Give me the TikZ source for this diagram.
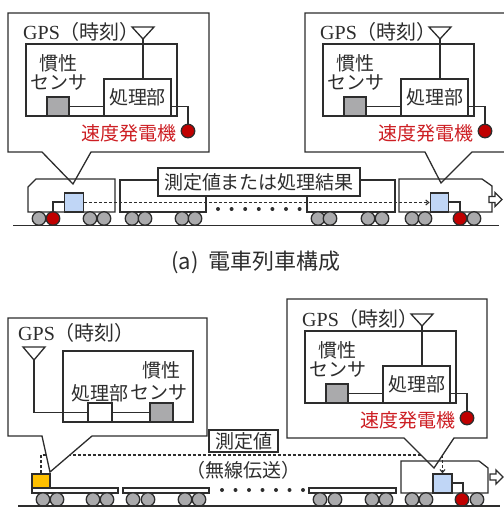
\documentclass[tikz,border=0pt]{standalone}
\usepackage{fontspec}
\setmainfont{Liberation Serif}
\newfontfamily\jp{Noto Sans CJK JP}
\usepackage{tikz}
\usetikzlibrary{arrows.meta, calc}
\definecolor{linegray}{RGB}{45,45,45}
\definecolor{sensgray}{RGB}{170,170,172}
\definecolor{genred}{RGB}{192,0,0}
\definecolor{txtred}{RGB}{205,30,35}
\definecolor{devblue}{RGB}{192,214,246}
\definecolor{devorange}{RGB}{255,192,0}
\tikzset{
    wire/.style={draw=linegray, line width=1.3pt},
    body/.style={draw=linegray, line width=1.3pt, line join=miter},
    callout/.style={draw=linegray, fill=white, line width=1.3pt, line join=miter},
    txt/.style={inner sep=0pt, text=linegray, font=\jp\fontsize{19}{21}\selectfont},
    gpstxt/.style={inner sep=0pt, text=linegray, font=\fontsize{20}{21}\selectfont},
    sensorbox/.style={draw=linegray, line width=1.3pt, fill=sensgray, minimum width=22pt, minimum height=19pt, inner sep=0pt},
    procbox/.style={draw=linegray, line width=1.3pt, fill=white, minimum width=67pt, minimum height=37pt, inner sep=0pt, text=linegray, font=\jp\fontsize{19}{21}\selectfont},
    gen/.style={circle, draw=linegray, line width=1.3pt, fill=genred, minimum size=13.5pt, inner sep=0pt},
    wheel/.style={circle, draw=linegray, line width=1.3pt, fill=sensgray, minimum size=13.5pt, inner sep=0pt},
    devbox/.style={draw=linegray, line width=1.3pt, fill=devblue, minimum width=18.5pt, minimum height=19pt, inner sep=0pt},
    lbl/.style={draw=linegray, line width=1.3pt, fill=white, inner sep=0pt, text=linegray, font=\jp\fontsize{19}{21}\selectfont},
    link/.style={draw=linegray, line width=1.1pt, dash pattern=on 3pt off 2pt, -{Straight Barb[length=3pt,width=5pt]}}
}
% 計測ユニット（#1: 名前の接頭辞, #2: 内枠左上の位置）
\newcommand{\unitbox}[2]{%
    \begin{scope}[shift={#2}]
        \draw[wire] (0,0) rectangle (151,72);
        \node[gpstxt, anchor=west] (#1gps) at (-3,-12) {GPS\jp （時刻）};
        \draw[wire] (106,-17) -- (128,-17) -- (117,-5) -- cycle;
        \coordinate (#1ant) at (117,-5);
        \node[sensorbox] (#1sen) at (32,62.5) {};
        \node[procbox] (#1proc) at (111.5,53.5) {処理部};
        \node[gen] (#1gen) at (162,87) {};
        \node[txt, text=txtred, anchor=east] at (151,89) {速度発電機};
        \node[txt] at (32,19) {慣性};
        \node[txt] at (33,39) {センサ};
        \draw[wire] (#1ant) -- (#1proc.north -| #1ant);
        \draw[wire] (#1sen.east) -- (#1sen.east -| #1proc.west);
        \draw[wire] (#1sen.east -| #1proc.east) -| (#1gen);
    \end{scope}}

\begin{document}
\begin{tikzpicture}[x=1pt, y=-1pt]
    \useasboundingbox (0,0) rectangle (504,507);

    % ---- (a) 電車列車 ----
    \node[devbox] (dA1) at (74,202.5) {};
    \node[devbox] (dA2) at (439.5,202.5) {};
    \draw[link] (dA1.east) -- (dA2.west);

    % 吹き出し
    \draw[callout] (8,13) -- (209,13) -- (209,152) -- (91,152) -- (73,184) -- (42,152) -- (8,152) -- cycle;
    \draw[callout] (305,13) -- (508,13) -- (508,152) -- (472,152) -- (441,183) -- (425,152) -- (305,152) -- cycle;
    \unitbox{A}{(26,44)}
    \unitbox{B}{(323,44)}

    % 車体
    \draw[body] (28,187) -- (36,179) -- (115,179) -- (115,212) -- (28,212) -- cycle;
    \draw[body] (120,180) rectangle (206,212);
    \draw[body] (307,180) rectangle (395,212);
    \draw[body] (399,179) -- (482,179) -- (492,186) -- (492,212) -- (399,212) -- cycle;
    \draw[wire] (53,212) |- (dA1.west |- 0,202);
    \draw[wire] (460,212) |- (dA2.east |- 0,202);
    \node[devbox] at (dA1) {};
    \node[devbox] at (dA2) {};
    \foreach \x in {0,...,6}
        \fill[linegray] (218+13.6*\x,209) circle (2);
    % 車輪
    \foreach \x [count=\i] in {39,90,104,132,145,182,195,318,330,368,382,412,425,474}
        \node[wheel] (wa\i) at (\x,218.5) {};
    \node[gen] (ga1) at (53,218.5) {};
    \node[gen] (ga2) at (460,218.5) {};
    \draw[wire] (13,225.5) -- (499,225.5);
    \draw[wire, fill=white] (489,196.5) -- (495,196.5) -- (495,192.5) -- (502,199.5) -- (495,206.5) -- (495,202.5) -- (489,202.5) -- cycle;

    \node[lbl, minimum width=202pt, minimum height=28pt] (kekka) at (259,182) {測定値または処理結果};
    \node[inner sep=0pt, text=linegray, font=\jp\fontsize{22}{24}\selectfont] (capa) at (256,262) {(a)\ \ 電車列車構成};

    % ---- (b) 貨物列車 ----
    \node[devbox, fill=devorange, minimum width=18pt, minimum height=14pt] (oB) at (41,481) {};
    \node[devbox, minimum width=19pt] (dB) at (442.5,483.5) {};
    \coordinate (musen) at (243,455);
    \draw[link] (oB.north) |- (musen) -| (dB.north);

    % 吹き出し（左）
    \draw[callout] (8,318) -- (207,318) -- (207,436) -- (92,436) -- (50,472) -- (42,436) -- (8,436) -- cycle;
    \node[gpstxt, anchor=west] (Cgps) at (18,333) {GPS\jp （時刻）};
    \draw[wire] (23,347) -- (45,347) -- (34,360) -- cycle;
    \coordinate (Cant) at (34,360);
    \draw[wire] (63,351) rectangle (193,422);
    \node[procbox, minimum width=24pt, minimum height=19pt] (Cproc) at (100,412.5) {};
    \node[sensorbox, minimum width=23pt] (Csen) at (161.5,412.5) {};
    \node[txt] at (161,370) {慣性};
    \node[txt] at (100,393) {処理部};
    \node[txt] at (159,393) {センサ};
    \draw[wire] (Cant) |- (Cproc.west);
    \draw[wire] (Cproc.east) -- (Csen.west);

    % 吹き出し（右）
    \draw[callout] (287,299) -- (487,299) -- (487,438) -- (454,438) -- (434,468) -- (404,438) -- (287,438) -- cycle;
    \unitbox{D}{(305,331)}

    % 車体
    \draw[body] (32,488) rectangle (118,493);
    \draw[body] (123,488) rectangle (209,493);
    \draw[body] (309,488) rectangle (396,493);
    \draw[body] (401,461) -- (479,461) -- (488,468) -- (488,493) -- (401,493) -- cycle;
    \draw[wire] (dB.east |- 0,483) -| (463,493);
    \node[devbox, fill=devorange, minimum width=18pt, minimum height=14pt] at (oB) {};
    \node[devbox, minimum width=19pt] at (dB) {};
    \foreach \x in {0,...,6}
        \fill[linegray] (222+13.5*\x,490) circle (2);
    % 車輪
    \foreach \x [count=\i] in {43,57,93,107,133,148,185,199,320,335,372,386,412,426,477}
        \node[wheel] (wb\i) at (\x,499.5) {};
    \node[gen] (gb1) at (462,499.5) {};
    \draw[wire] (18,506) -- (500,506);
    \draw[wire, fill=white] (490,474) -- (496,474) -- (496,470) -- (503,477) -- (496,484) -- (496,480) -- (490,480) -- cycle;

    \node[lbl, minimum width=69pt, minimum height=22pt] (sokutei) at (243.5,441) {測定値};
    \node[txt] (musenlbl) at (243,470) {（無線伝送）};
\end{tikzpicture}
\end{document}
